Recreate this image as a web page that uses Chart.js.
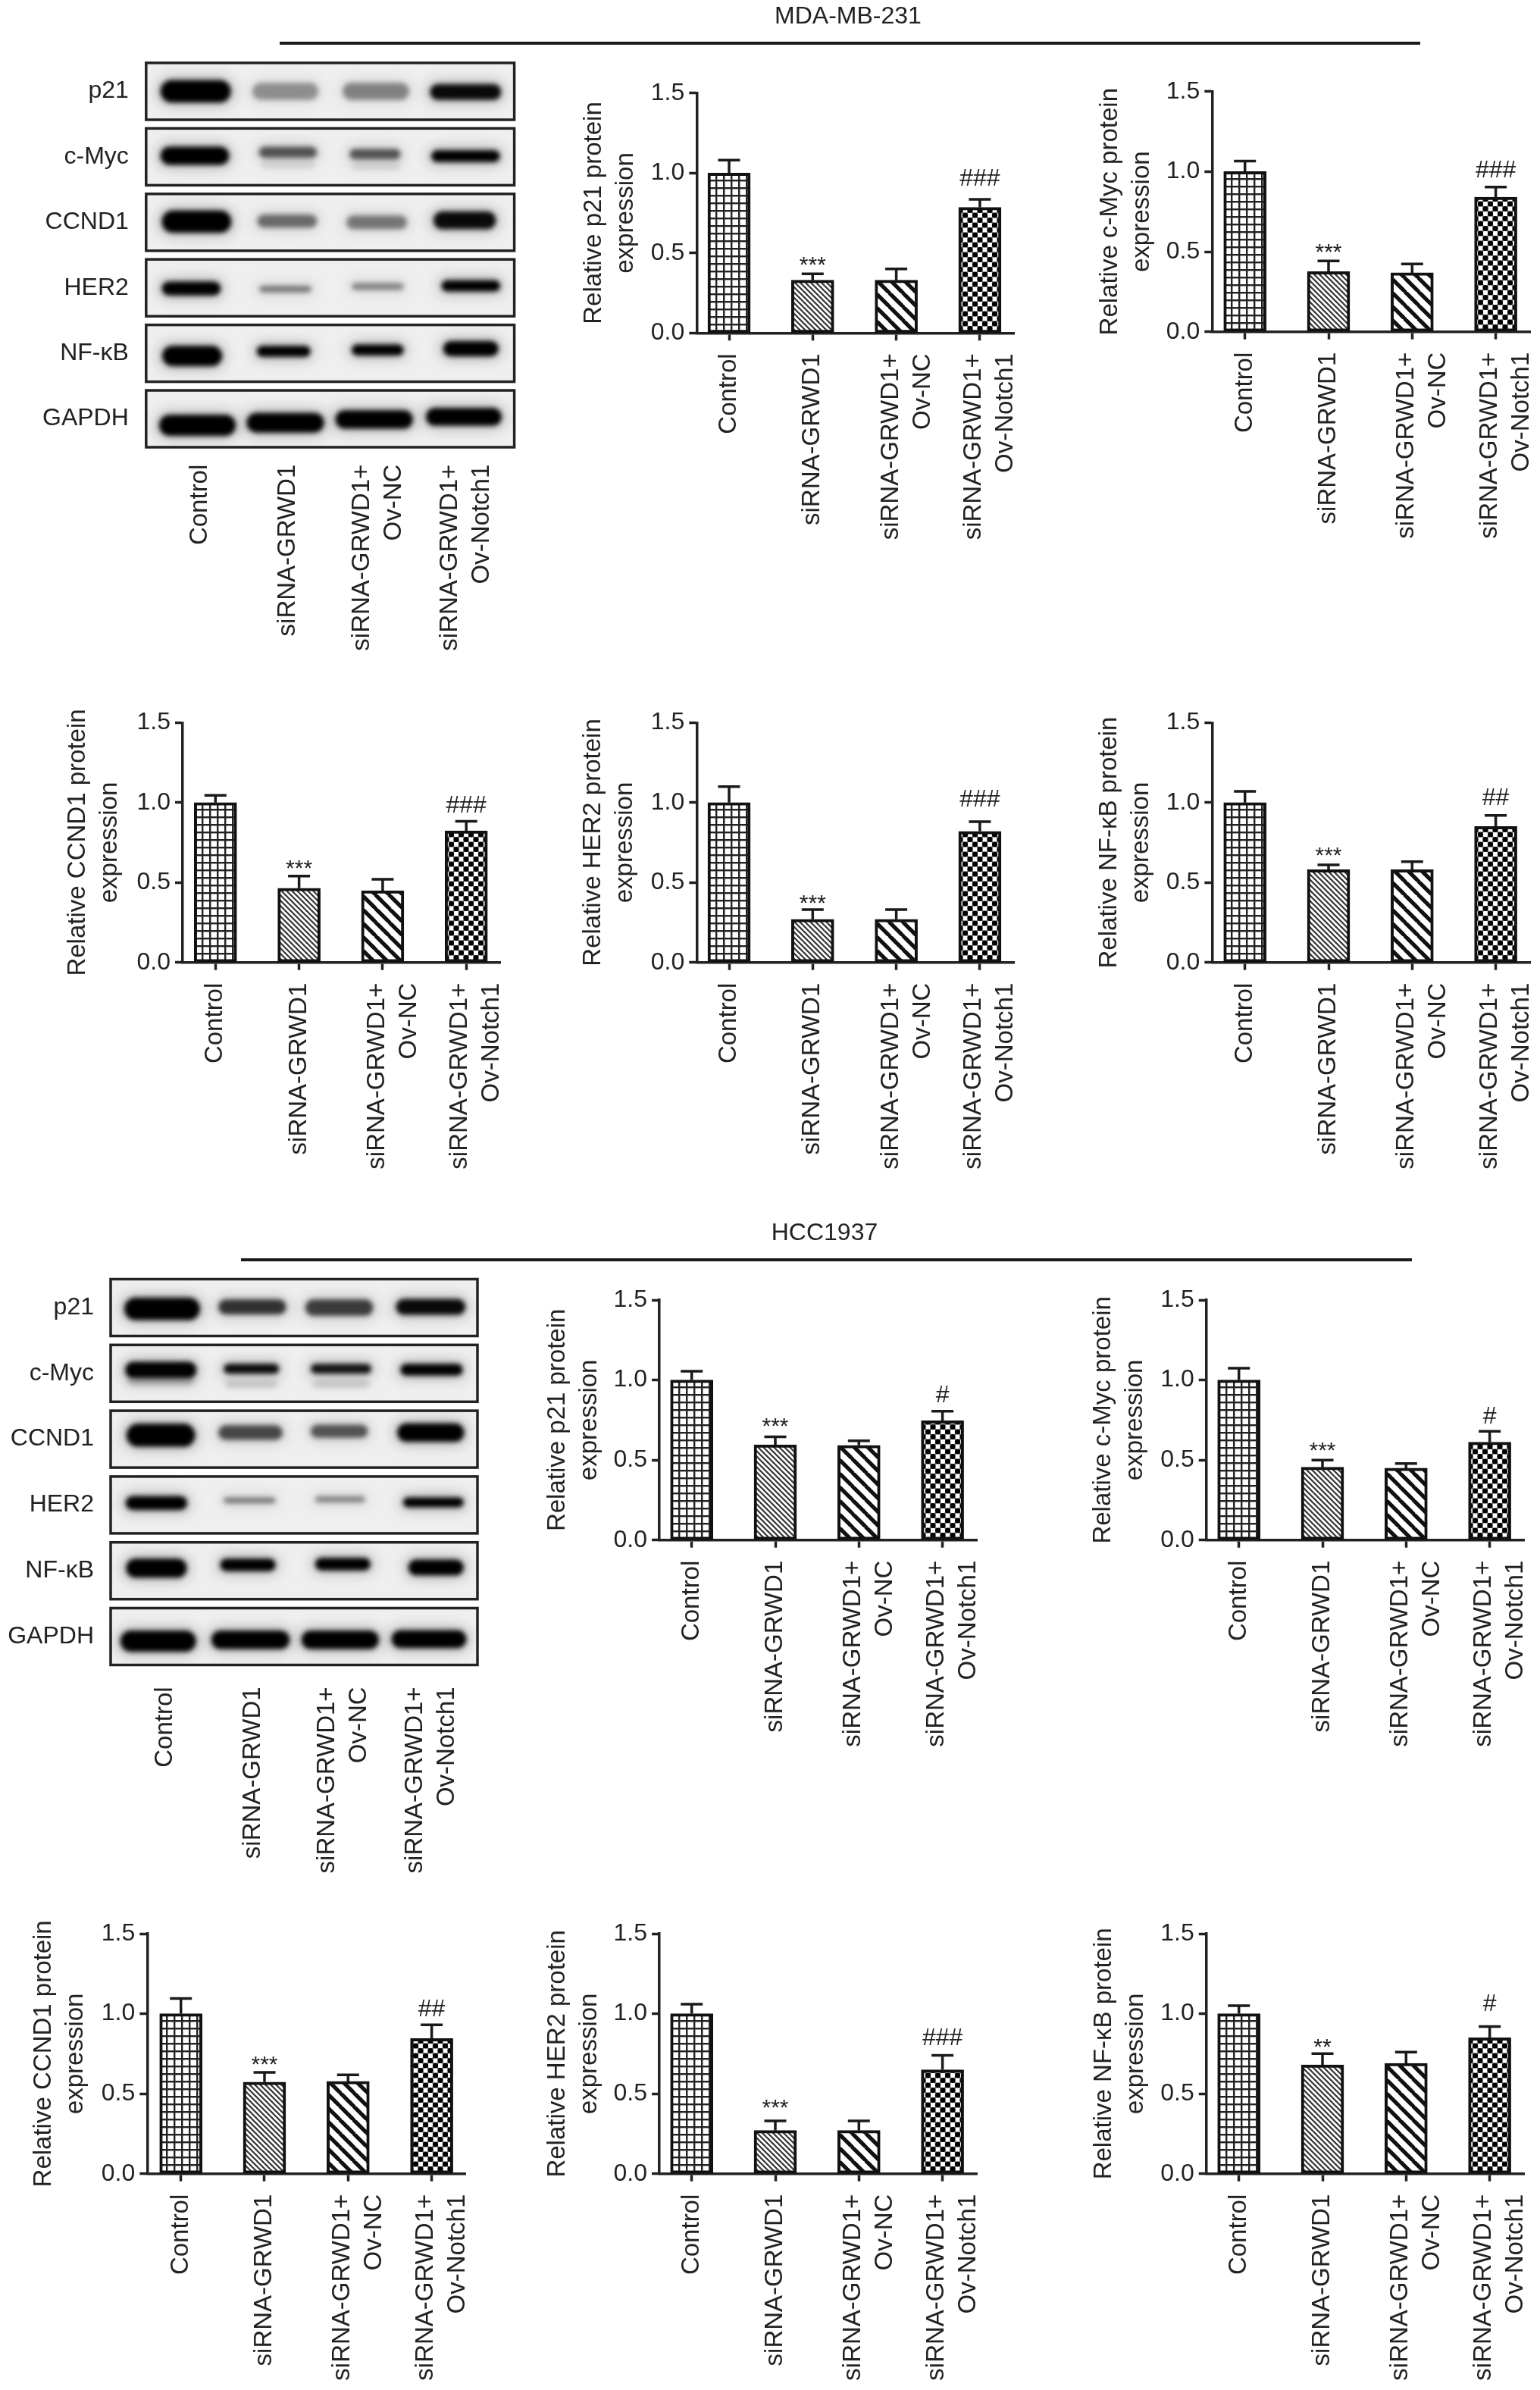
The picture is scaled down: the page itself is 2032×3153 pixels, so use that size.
<!DOCTYPE html>
<html><head><meta charset="utf-8">
<script src="https://cdn.jsdelivr.net/npm/chart.js@4"></script>
<style>
html,body{margin:0;padding:0;background:#fff;width:2032px;height:3153px;overflow:hidden}
#fig{position:relative;width:2032px;height:3153px;overflow:hidden;filter:blur(0.6px)}
canvas{position:absolute}
.gt{position:absolute;font:32px "Liberation Sans",Arial,sans-serif;color:#222;transform:translateX(-50%);white-space:nowrap;line-height:36px}
.gl{position:absolute;height:4px;background:#1a1a1a}
</style></head><body><div id="fig"></div>
<script>
// ---------- categories and labels ----------
const barLabels = ['Control', 'siRNA-GRWD1', ['siRNA-GRWD1+', 'Ov-NC'], ['siRNA-GRWD1+', 'Ov-Notch1']];
const proteinLabels = ['p21', 'c-Myc', 'CCND1', 'HER2', 'NF-κB', 'GAPDH'];
const yTicks = [0, 0.5, 1.0, 1.5];

// ---------- MDA-MB-231 values (bar top, error-bar top, annotation, annotation height) ----------
const mdaP21 = [1.0, 0.33, 0.33, 0.785];
const mdaP21Err = [1.08, 0.37, 0.40, 0.835];
const mdaMyc = [1.0, 0.375, 0.368, 0.84];
const mdaMycErr = [1.066, 0.442, 0.423, 0.904];
const mdaCcnd = [1.0, 0.464, 0.449, 0.823];
const mdaCcndErr = [1.045, 0.54, 0.52, 0.883];
const mdaHer = [1.0, 0.27, 0.27, 0.82];
const mdaHerErr = [1.10, 0.33, 0.33, 0.88];
const mdaNf = [1.0, 0.58, 0.58, 0.85];
const mdaNfErr = [1.07, 0.61, 0.63, 0.92];
// ---------- HCC1937 values ----------
const hccP21 = [1.0, 0.595, 0.592, 0.745];
const hccP21Err = [1.055, 0.645, 0.62, 0.805];
const hccMyc = [1.0, 0.455, 0.449, 0.611];
const hccMycErr = [1.074, 0.50, 0.478, 0.68];
const hccCcnd = [1.0, 0.573, 0.577, 0.845];
const hccCcndErr = [1.095, 0.633, 0.618, 0.93];
const hccHer = [1.0, 0.27, 0.27, 0.65];
const hccHerErr = [1.06, 0.33, 0.33, 0.74];
const hccNf = [1.0, 0.68, 0.69, 0.85];
const hccNfErr = [1.05, 0.75, 0.76, 0.92];

// marks above bars: [bar index, text, value height]
const marksMdaP21 = [[1, '***', 0.455], [3, '###', 0.975]];
const marksMdaMyc = [[1, '***', 0.526], [3, '###', 1.02]];
const marksMdaCcnd = [[1, '***', 0.619], [3, '###', 0.994]];
const marksMdaHer = [[1, '***', 0.40], [3, '###', 1.03]];
const marksMdaNf = [[1, '***', 0.70], [3, '##', 1.04]];
const marksHccP21 = [[1, '***', 0.738], [3, '#', 0.916]];
const marksHccMyc = [[1, '***', 0.589], [3, '#', 0.782]];
const marksHccCcnd = [[1, '***', 0.711], [3, '##', 1.04]];
const marksHccHer = [[1, '***', 0.44], [3, '###', 0.86]];
const marksHccNf = [[1, '**', 0.82], [3, '#', 1.07]];

// ---------- blot bands, per row, per lane: [lane centre, lane width, row thickness, darkness, row offset] ----------
const mdaBands = [
 [[-.05,.80,.34,1,0],[.97,.75,.26,.35,0],[2.0,.755,.26,.4,0],[3.02,.81,.24,.95,.01]],
 [[-.06,.78,.28,1,-.016],[1.0,.66,.17,.6,-.07],[1.99,.58,.16,.6,-.04],[3.02,.78,.18,1,-.01],[1.0,.6,.12,.08,.12],[2.0,.55,.12,.08,.14]],
 [[-.04,.79,.34,1,-.01],[.99,.68,.2,.5,-.02],[2.01,.69,.21,.45,0],[3.01,.71,.27,.95,-.03]],
 [[-.1,.67,.21,1,.01],[.97,.59,.1,.45,.02],[2.02,.59,.11,.4,-.02],[3.08,.67,.17,1,-.03]],
 [[-.09,.68,.31,1,.04],[.95,.61,.17,1,-.03],[2.02,.59,.17,1,-.05],[3.08,.63,.23,1,-.07]],
 [[-.03,.87,.32,1,.1],[.97,.88,.3,1,.06],[1.98,.88,.28,1,.01],[3.0,.86,.27,1,-.03]]
];
const hccBands = [
 [[-.035,.86,.34,1,.02],[.99,.77,.23,.75,-.01],[1.98,.77,.25,.7,0],[3.02,.79,.24,.95,-.01]],
 [[-.05,.81,.25,1,-.05],[.98,.63,.15,.95,-.07],[2.0,.69,.15,.9,-.07],[3.03,.71,.18,1,-.055],[-.05,.75,.12,.2,.12],[.98,.6,.12,.12,.16],[2.0,.65,.12,.12,.16]],
 [[-.05,.78,.35,1,-.06],[.97,.73,.22,.65,-.1],[1.98,.65,.2,.6,-.12],[3.02,.76,.28,1,-.1]],
 [[-.1,.7,.21,1,-.03],[.96,.59,.09,.45,-.07],[1.99,.57,.1,.4,-.085],[3.05,.69,.15,1,-.04]],
 [[-.1,.69,.29,1,-.04],[.94,.63,.19,1,-.09],[2.02,.63,.19,1,-.1],[3.08,.63,.24,1,-.05]],
 [[-.08,.86,.32,1,.07],[.97,.89,.28,1,.05],[1.99,.88,.28,1,.05],[3.0,.85,.27,1,.04]]
];

// ---------- layout (figure pixels) ----------
const FONT = '"Liberation Sans", Arial, sans-serif';
const INK = '#222';
const UNIT = 110.3;
const panels = [
 {title:'p21', v:mdaP21, e:mdaP21Err, m:marksMdaP21, x0:919.3, c0:962, xe:1338, top:122.7, bot:439.3, tp:3},
 {title:'c-Myc', v:mdaMyc, e:mdaMycErr, m:marksMdaMyc, x0:1599.3, c0:1642.7, xe:2019, top:120.7, bot:437.7, tp:4},
 {title:'CCND1', v:mdaCcnd, e:mdaCcndErr, m:marksMdaCcnd, x0:241, c0:284.3, xe:660, top:953.3, bot:1269.7, tp:0},
 {title:'HER2', v:mdaHer, e:mdaHerErr, m:marksMdaHer, x0:919.3, c0:962, xe:1338, top:953.3, bot:1269.7, tp:2},
 {title:'NF-κB', v:mdaNf, e:mdaNfErr, m:marksMdaNf, x0:1599.3, c0:1642.7, xe:2019, top:953.3, bot:1269.7, tp:3},
 {title:'p21', v:hccP21, e:hccP21Err, m:marksHccP21, x0:870, c0:912.7, xe:1289, top:1715, bot:2031.7, tp:4},
 {title:'c-Myc', v:hccMyc, e:hccMycErr, m:marksHccMyc, x0:1591.7, c0:1634.7, xe:2011, top:1715, bot:2031.7, tp:2},
 {title:'CCND1', v:hccCcnd, e:hccCcndErr, m:marksHccCcnd, x0:194.3, c0:238.7, xe:614, top:2551, bot:2867.7, tp:2},
 {title:'HER2', v:hccHer, e:hccHerErr, m:marksHccHer, x0:870, c0:912.7, xe:1289, top:2551, bot:2867.7, tp:4},
 {title:'NF-κB', v:hccNf, e:hccNfErr, m:marksHccNf, x0:1591.7, c0:1634.7, xe:2011, top:2551, bot:2867.7, tp:3}
];
const blots = [
 {bands:mdaBands, l:192.8, r:678.6, t:77.3, b:595.7, o:264, u:116, pad:9, ypad:15},
 {bands:hccBands, l:146, r:630, t:1681.6, b:2202.4, o:218, u:116, pad:15, ypad:14}
];
const groups = [
 {text:'MDA-MB-231', cx:1119, ty:2, lx:369, rx:1874, ly:55},
 {text:'HCC1937', cx:1088, ty:1607, lx:318, rx:1863, ly:1660}
];
const barLabelShift = [0, 0, -7, -8];
const blotLabelShift = [0, 0, -18, -18];

// ---------- patterns ----------
function tile(n, draw){const c=document.createElement('canvas');c.width=c.height=n;const g=c.getContext('2d');g.fillStyle='#fff';g.fillRect(0,0,n,n);draw(g,n);return c.getContext('2d').createPattern(c,'repeat');}
function diag(g,n,w,col){g.strokeStyle=col;g.lineWidth=w;[-n,0,n].forEach(o=>{g.beginPath();g.moveTo(o-1,-1);g.lineTo(o+n+1,n+1);g.stroke();});}
const patterns = [
 tile(10,(g,n)=>{g.fillStyle='#222';g.fillRect(0,4,n,2.4);g.fillRect(4,0,2.4,n);}),
 tile(7,(g,n)=>diag(g,n,2.2,'#333')),
 tile(18,(g,n)=>diag(g,n,5.2,'#111')),
 tile(13,(g,n)=>{g.fillStyle='#6a6a6a';g.fillRect(0,0,n,n);
   const dot=(x,y,r,c)=>{g.fillStyle=c;g.beginPath();g.arc(x,y,r,0,7);g.fill();};
   [[0,0],[13,0],[0,13],[13,13],[6.5,6.5]].forEach(p=>dot(p[0],p[1],3.4,'#fff'));
   [[6.5,0],[6.5,13],[0,6.5],[13,6.5]].forEach(p=>dot(p[0],p[1],3.6,'#000'));})
];

// ---------- plugins ----------
const errPlugin = {id:'errs', afterDatasetsDraw(chart, a, o){
  const {x, y} = chart.scales, g = chart.ctx, P = chart.$panel;
  g.save(); g.strokeStyle = '#1a1a1a'; g.lineWidth = 3.5; g.lineCap='butt';
  P.v.forEach((v,i)=>{const px=x.getPixelForValue(i), a0=y.getPixelForValue(v), a1=y.getPixelForValue(P.e[i]);
    g.beginPath();g.moveTo(px,a0);g.lineTo(px,a1);g.moveTo(px-14.5,a1);g.lineTo(px+14.5,a1);g.stroke();});
  g.fillStyle = '#222'; g.textAlign='center'; g.textBaseline='alphabetic';
  P.m.forEach(([i,t,h])=>{const star=t[0]==='*';g.font=(star?'30px ':'32px ')+FONT;
    g.fillText(t, x.getPixelForValue(i), y.getPixelForValue(h)+(star?0.52*30:0.36*32));});
  g.restore();
}};
const blotPlugin = {id:'blot', beforeDatasetsDraw(chart){
  const {x, y} = chart.scales, g = chart.ctx, B = chart.$blot, A = chart.chartArea;
  const pitch = y.getPixelForValue(1)-y.getPixelForValue(0), H = 75;
  B.bands.forEach((row,i)=>{
    const yc=y.getPixelForValue(i), top=yc-H/2;
    g.save(); g.beginPath(); g.rect(A.left,top,A.right-A.left,H); g.clip();
    g.fillStyle='#efefef'; g.fillRect(A.left,top,A.right-A.left,H);
    row.forEach(([c,w,th,d,off])=>{
      const x1=x.getPixelForValue(c-w/2), x2=x.getPixelForValue(c+w/2), yb=y.getPixelForValue(i+off), t=th*pitch;
      g.filter='blur(9px)'; g.fillStyle='rgba(90,90,90,'+(0.45*d)+')';
      g.beginPath(); g.roundRect(x1-4,yb-t/2-3,x2-x1+8,t+6,(t+6)/2); g.fill();
      g.filter='blur(3px)'; g.fillStyle='rgba(0,0,0,'+d+')';
      g.beginPath(); g.roundRect(x1,yb-t/2,x2-x1,t,t/2); g.fill();
    });
    g.restore();
    g.save(); g.strokeStyle='#222'; g.lineWidth=3.5; g.strokeRect(A.left,top,A.right-A.left,H); g.restore();
  });
}};

// nudges the rotated tick labels sideways without moving the tick marks
function shiftLabels(scale, shifts){
  if (scale.$shifted) return; scale.$shifted = true;
  const orig = scale._computeLabelItems;
  scale._computeLabelItems = function(area){
    const items = orig.call(this, area);
    items.forEach((it,i)=>{ if (it.options && it.options.translation) it.options.translation[0] += shifts[i] || 0; });
    return items;
  };
}

const fig = document.getElementById('fig');
function addCanvas(l,t,w,h){const c=document.createElement('canvas');c.width=w;c.height=h;c.style.cssText=`left:${l}px;top:${t}px;width:${w}px;height:${h}px`;fig.appendChild(c);return c;}
const fnt = {family:FONT, size:32};
const xFnt = {family:FONT, size:33, lineHeight:1.27};
const RIGHT_MARGIN = 100;

// ---------- bar panels ----------
panels.forEach(P=>{
  const left=Math.max(0,Math.round(P.x0-159)), top=Math.round(P.top-60), belowAxis=285;
  const W=Math.round(P.xe+RIGHT_MARGIN)-left, H=Math.round(P.bot+belowAxis)-top;
  const c=addCanvas(left,top,W,H);
  const xFrom=(P.x0-P.c0)/UNIT, xTo=3+(P.xe-(P.c0+3*UNIT))/UNIT;
  new Chart(c,{type:'bar',
    data:{datasets:[{data:P.v.map((v,i)=>({x:i,y:v})),backgroundColor:patterns,borderColor:'#111',borderWidth:4,borderSkipped:false,barThickness:56}]},
    plugins:[errPlugin, {id:'bind',beforeInit(ch){ch.$panel=P;}}],
    options:{responsive:false,animation:false,devicePixelRatio:1,
      layout:{padding:{left:0,top:P.top-top,right:left+W-P.xe,bottom:top+H-P.bot-belowAxis}},
      plugins:{legend:{display:false},tooltip:{enabled:false}},
      scales:{
        x:{type:'linear',min:xFrom,max:xTo,offset:false,
           grid:{drawOnChartArea:false,offset:false,tickLength:10,tickColor:INK,tickWidth:3.5},
           border:{color:INK,width:3.5},
           afterBuildTicks:s=>{s.ticks=[0,1,2,3].map(v=>({value:v}));shiftLabels(s,barLabelShift);},
           afterFit:s=>{s.height=belowAxis;},
           ticks:{autoSkip:false,minRotation:90,maxRotation:90,padding:17,color:INK,font:xFnt,callback:v=>barLabels[v]}},
        y:{min:0,max:1.5,
           grid:{drawOnChartArea:false,tickLength:10,tickColor:INK,tickWidth:3.5},
           border:{color:INK,width:3.5},
           afterBuildTicks:s=>{s.ticks=yTicks.map(v=>({value:v}));},
           afterFit:s=>{s.width=P.x0-left;},
           ticks:{padding:6,color:INK,font:fnt,callback:v=>v.toFixed(1)},
           title:{display:true,text:['Relative '+P.title+' protein','expression'],color:INK,padding:{top:P.tp,bottom:0},font:{family:FONT,size:33,lineHeight:1.27}}}
      }}});
});

// ---------- blots ----------
blots.forEach(B=>{
  const below=285, top=Math.round(B.t-50), H=Math.round(B.b+below)-top, W=Math.round(B.r+RIGHT_MARGIN);
  const c=addCanvas(0,top,W,H);
  new Chart(c,{type:'scatter',data:{datasets:[]},
    plugins:[blotPlugin,{id:'bind',beforeInit(ch){ch.$blot=B;}}],
    options:{responsive:false,animation:false,devicePixelRatio:1,
      layout:{padding:{left:0,top:B.t-top,right:W-B.r,bottom:top+H-B.b-below}},
      plugins:{legend:{display:false},tooltip:{enabled:false}},
      scales:{
        x:{type:'linear',min:(B.l-B.o)/B.u,max:(B.r-B.o)/B.u,grid:{display:false},border:{display:false},
           afterBuildTicks:s=>{s.ticks=[0,1,2,3].map(v=>({value:v}));shiftLabels(s,blotLabelShift);},
           afterFit:s=>{s.height=below;},
           ticks:{autoSkip:false,minRotation:90,maxRotation:90,padding:B.pad,color:INK,font:xFnt,callback:v=>barLabels[v]}},
        y:{type:'category',labels:proteinLabels,offset:true,grid:{display:false},border:{display:false},
           afterFit:s=>{s.width=B.l;},
           ticks:{padding:B.ypad,color:INK,font:fnt}}
      }}});
});

// ---------- group headings ----------
groups.forEach(G=>{
  const t=document.createElement('div');t.className='gt';t.textContent=G.text;t.style.left=G.cx+'px';t.style.top=G.ty+'px';fig.appendChild(t);
  const l=document.createElement('div');l.className='gl';l.style.left=G.lx+'px';l.style.width=(G.rx-G.lx)+'px';l.style.top=G.ly+'px';fig.appendChild(l);
});
</script></body></html>
